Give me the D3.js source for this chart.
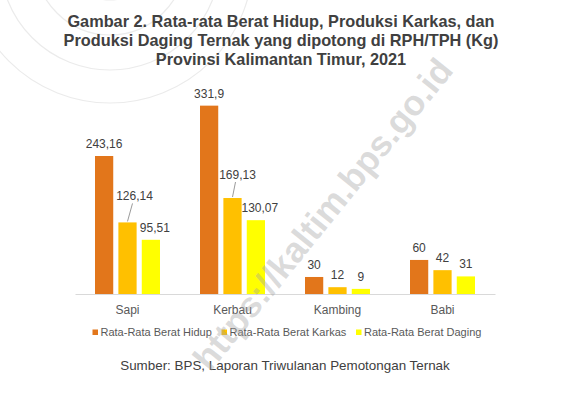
<!DOCTYPE html>
<html><head><meta charset="utf-8">
<script src="https://cdn.jsdelivr.net/npm/d3@7"></script>
<style>body{margin:0;background:#fff}svg{display:block}</style>
</head><body><div id="chart"></div>
<script>
const categories = ["Sapi", "Kerbau", "Kambing", "Babi"];
const seriesNames = ["Rata-Rata Berat Hidup", "Rata-Rata Berat Karkas", "Rata-Rata Berat Daging"];
const beratHidup = [243.16, 331.9, 30, 60];
const beratKarkas = [126.14, 169.13, 12, 42];
const beratDaging = [95.51, 130.07, 9, 31];
const labelHidup = ["243,16", "331,9", "30", "60"];
const labelKarkas = ["126,14", "169,13", "12", "42"];
const labelDaging = ["95,51", "130,07", "9", "31"];

const seriesValues = [beratHidup, beratKarkas, beratDaging];
const seriesLabels = [labelHidup, labelKarkas, labelDaging];
const colors = ["#E2761B", "#FFC000", "#FFFF00"];
// label offset adjustments keyed "series-category"
const labelAdjust = {
  "1-0": {dx: 7, dy: -14, leader: true},
  "1-1": {dx: 5, dy: -11, leader: true},
  "2-0": {dx: 4, dy: 0, leader: false},
  "2-1": {dx: 4, dy: 0, leader: false}
};

const W = 566, H = 398;
const FONT = "Liberation Sans, Arial, sans-serif";
const svg = d3.select("#chart").append("svg").attr("width", W).attr("height", H);

// faint logo arcs
const arcG = svg.append("g");
[40, 75, 110, 143].forEach(r => {
  arcG.append("circle").attr("cx", 110).attr("cy", -40).attr("r", r)
    .attr("fill", "none").attr("stroke", "#ebebeb").attr("stroke-width", 1.2);
});

// title
const title = ["Gambar 2. Rata-rata Berat Hidup, Produksi Karkas, dan",
  "Produksi Daging Ternak yang dipotong di RPH/TPH (Kg)",
  "Provinsi Kalimantan Timur, 2021"];
svg.append("g").selectAll("text").data(title).join("text")
  .attr("x", 281).attr("y", (d, i) => 27 + i * 19)
  .attr("text-anchor", "middle")
  .attr("font-family", FONT)
  .attr("font-weight", "bold").attr("font-size", 16.3)
  .attr("fill", "#404040").text(d => d);

const x0 = d3.scaleBand().domain(categories).range([75, 495]).paddingInner(0).paddingOuter(0);
const x1 = d3.scaleBand().domain(d3.range(3)).range([20, 85]).paddingInner(0.22);
const y = d3.scaleLinear().domain([0, 350]).range([294, 294 - 350 * 0.5675]);

const g = svg.append("g");
seriesValues.forEach((vals, s) => {
  g.append("g").selectAll("rect").data(vals).join("rect")
    .attr("x", (d, i) => x0(categories[i]) + x1(s))
    .attr("y", d => y(d))
    .attr("width", x1.bandwidth())
    .attr("height", d => y(0) - y(d))
    .attr("fill", colors[s]);
});

// baseline axis
const axis = d3.axisBottom(x0).tickSize(0).tickPadding(11);
const ag = svg.append("g").attr("transform", `translate(0,${y(0)})`).call(axis);
ag.select(".domain").attr("stroke", "#d9d9d9").attr("stroke-width", 1.2);
ag.selectAll("text").attr("font-family", FONT)
  .attr("font-size", 12).attr("fill", "#595959");

// data labels
seriesValues.forEach((vals, s) => {
  vals.forEach((v, i) => {
    const adj = labelAdjust[s + "-" + i] || {dx: 0, dy: 0, leader: false};
    const cx = x0(categories[i]) + x1(s) + x1.bandwidth() / 2;
    const ty = y(v) - 8 + adj.dy;
    svg.append("text").attr("x", cx + adj.dx).attr("y", ty)
      .attr("text-anchor", "middle")
      .attr("font-family", FONT)
      .attr("font-size", 12).attr("fill", "#404040")
      .text(seriesLabels[s][i]);
    if (adj.leader) {
      svg.append("line").attr("x1", cx + adj.dx - 2).attr("y1", ty + 3)
        .attr("x2", cx).attr("y2", y(v) - 1)
        .attr("stroke", "#808080").attr("stroke-width", 0.8);
    }
  });
});

// legend
const legX = [92.5, 221.5, 356];
const lg = svg.append("g");
seriesNames.forEach((n, s) => {
  lg.append("rect").attr("x", legX[s]).attr("y", 329.5).attr("width", 5.5).attr("height", 5.5).attr("fill", colors[s]);
  lg.append("text").attr("x", legX[s] + 8).attr("y", 336)
    .attr("font-family", FONT)
    .attr("font-size", 11).attr("fill", "#595959").text(n);
});

// source
svg.append("text").attr("x", 285).attr("y", 370).attr("text-anchor", "middle")
  .attr("font-family", FONT)
  .attr("font-size", 13.4).attr("fill", "#404040")
  .text("Sumber: BPS, Laporan Triwulanan Pemotongan Ternak");

// watermark
svg.append("text").attr("transform", "translate(325,216) rotate(-51)")
  .attr("text-anchor", "middle").attr("dominant-baseline", "middle")
  .attr("font-family", FONT)
  .attr("font-weight", "bold").attr("font-size", 35.5)
  .attr("fill", "#a0a0a0").attr("fill-opacity", 0.38)
  .text("https://kaltim.bps.go.id");
</script></body></html>
